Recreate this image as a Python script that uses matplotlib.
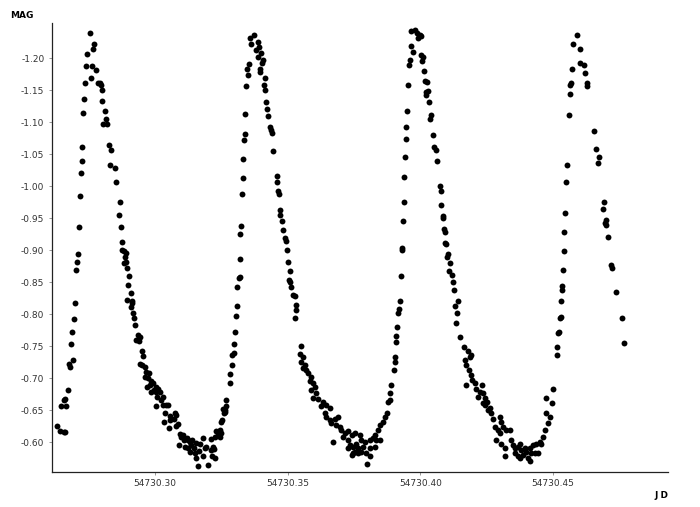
import numpy as np
import matplotlib
matplotlib.use("Agg")
import matplotlib.pyplot as plt
from matplotlib.ticker import FormatStrFormatter, MultipleLocator

# Julian date offsets (JD - 54730) and magnitudes
jd_rise1 = [0.2630, 0.2640, 0.2655, 0.2660, 0.2644, 0.2665, 0.2655, 0.2661, 0.2671, 0.2675,
            0.2680, 0.2690, 0.2684, 0.2688, 0.2694, 0.2698, 0.2701, 0.2705, 0.2709, 0.2713,
            0.2715, 0.2719, 0.2723, 0.2725, 0.2729, 0.2731, 0.2737, 0.2741, 0.2744, 0.2756,
            0.2759, 0.2763, 0.2765, 0.2769, 0.2778, 0.2784, 0.2791, 0.2794, 0.2798, 0.2801,
            0.2810, 0.2813, 0.2818, 0.2803, 0.2826, 0.2835, 0.2831, 0.2850, 0.2851, 0.2866,
            0.2862]
mag_rise1 = [-0.626, -0.618, -0.616, -0.616, -0.656, -0.657, -0.666, -0.668, -0.681, -0.723,
             -0.717, -0.729, -0.754, -0.772, -0.792, -0.818, -0.869, -0.882, -0.894, -0.937,
             -0.985, -1.021, -1.040, -1.061, -1.115, -1.137, -1.162, -1.188, -1.206, -1.239,
             -1.170, -1.188, -1.214, -1.222, -1.182, -1.162, -1.161, -1.158, -1.150, -1.134,
             -1.118, -1.105, -1.098, -1.097, -1.064, -1.057, -1.034, -1.029, -1.007, -0.976,
             -0.955]

jd_fall1 = [0.2870, 0.2876, 0.2874, 0.2881, 0.2889, 0.2885, 0.2891, 0.2881, 0.2895, 0.2900,
            0.2897, 0.2910, 0.2894, 0.2911, 0.2914, 0.2908, 0.2916, 0.2920, 0.2924, 0.2935,
            0.2941, 0.2929, 0.2939, 0.2950, 0.2954, 0.2944, 0.2952, 0.2960, 0.2967, 0.2975,
            0.2960, 0.2973, 0.2986, 0.2992, 0.2979, 0.2969, 0.3002, 0.3010, 0.2994, 0.2986,
            0.3002, 0.3017, 0.3008, 0.3029, 0.3021, 0.3039, 0.3048, 0.3029, 0.3002, 0.3036,
            0.3055, 0.3073, 0.3080, 0.3032, 0.3055, 0.3070, 0.3052, 0.3077, 0.3086, 0.3092,
            0.3105, 0.3099, 0.3118, 0.3124, 0.3108, 0.3130, 0.3140, 0.3155, 0.3168, 0.3180,
            0.3090, 0.3111, 0.3124, 0.3136, 0.3145, 0.3130, 0.3149, 0.3164, 0.3187, 0.3193,
            0.3155, 0.3180, 0.3209, 0.3218, 0.3222, 0.3161, 0.3199, 0.3216, 0.3224, 0.3212,
            0.3224, 0.3237, 0.3243, 0.3249, 0.3231, 0.3239, 0.3246, 0.3247, 0.3253, 0.3258,
            0.3265, 0.3268, 0.3266, 0.3255, 0.3262]
mag_fall1 = [-0.937, -0.913, -0.900, -0.899, -0.896, -0.889, -0.882, -0.880, -0.872, -0.860,
             -0.846, -0.834, -0.823, -0.820, -0.817, -0.811, -0.802, -0.794, -0.783, -0.768,
             -0.765, -0.760, -0.759, -0.742, -0.735, -0.723, -0.721, -0.717, -0.710, -0.709,
             -0.702, -0.700, -0.695, -0.692, -0.690, -0.687, -0.687, -0.683, -0.681, -0.678,
             -0.678, -0.679, -0.671, -0.671, -0.666, -0.659, -0.658, -0.658, -0.657, -0.645,
             -0.641, -0.645, -0.643, -0.631, -0.635, -0.637, -0.623, -0.625, -0.629, -0.613,
             -0.611, -0.609, -0.606, -0.603, -0.604, -0.601, -0.604, -0.599, -0.598, -0.606,
             -0.595, -0.593, -0.591, -0.596, -0.591, -0.585, -0.583, -0.587, -0.591, -0.593,
             -0.576, -0.579, -0.588, -0.593, -0.589, -0.563, -0.565, -0.578, -0.575, -0.605,
             -0.609, -0.611, -0.608, -0.614, -0.617, -0.614, -0.619, -0.631, -0.635, -0.645,
             -0.650, -0.656, -0.666, -0.652, -0.647]

jd_rise2 = [0.3281, 0.3283, 0.3291, 0.3291, 0.3297, 0.3297, 0.3302, 0.3306, 0.3310, 0.3310,
            0.3315, 0.3318, 0.3318, 0.3321, 0.3325, 0.3326, 0.3330, 0.3332, 0.3335, 0.3338,
            0.3340, 0.3344, 0.3351, 0.3347, 0.3354]
mag_rise2 = [-0.693, -0.706, -0.721, -0.736, -0.739, -0.753, -0.772, -0.798, -0.813, -0.843,
             -0.857, -0.859, -0.887, -0.925, -0.938, -0.988, -1.013, -1.043, -1.072, -1.082,
             -1.113, -1.156, -1.174, -1.184, -1.191]

jd_fall2 = [0.3356, 0.3372, 0.3363, 0.3387, 0.3391, 0.3381, 0.3400, 0.3387, 0.3406, 0.3404,
            0.3396, 0.3394, 0.3413, 0.3410, 0.3415, 0.3419, 0.3421, 0.3425, 0.3432, 0.3435,
            0.3442, 0.3444, 0.3461, 0.3458, 0.3463, 0.3467, 0.3472, 0.3470, 0.3479, 0.3482,
            0.3488, 0.3492, 0.3497, 0.3501, 0.3507, 0.3504, 0.3510, 0.3513, 0.3519, 0.3526,
            0.3532, 0.3530, 0.3526,
            0.3551, 0.3545, 0.3557, 0.3551, 0.3564, 0.3557, 0.3570, 0.3576, 0.3589, 0.3582,
            0.3595, 0.3601, 0.3589, 0.3608, 0.3595, 0.3614, 0.3632, 0.3626, 0.3645, 0.3658,
            0.3639, 0.3645, 0.3658, 0.3677, 0.3689, 0.3664, 0.3683, 0.3695, 0.3702, 0.3714,
            0.3727, 0.3708, 0.3670, 0.3740, 0.3752, 0.3771, 0.3727, 0.3733, 0.3746, 0.3758,
            0.3764, 0.3777, 0.3790, 0.3783, 0.3809, 0.3821, 0.3827, 0.3840, 0.3846, 0.3859,
            0.3865, 0.3872, 0.3878, 0.3884, 0.3809, 0.3796, 0.3777, 0.3752, 0.3740, 0.3727,
            0.3834, 0.3846, 0.3827, 0.3811, 0.3798, 0.3746, 0.3764]
mag_fall2 = [-1.232, -1.236, -1.222, -1.226, -1.218, -1.213, -1.208, -1.202, -1.197, -1.192,
             -1.184, -1.179, -1.170, -1.159, -1.150, -1.131, -1.120, -1.110, -1.092, -1.088,
             -1.084, -1.055, -1.016, -1.006, -0.993, -0.988, -0.963, -0.955, -0.945, -0.932,
             -0.919, -0.915, -0.900, -0.882, -0.867, -0.854, -0.851, -0.843, -0.830, -0.828,
             -0.815, -0.807, -0.794,
             -0.751, -0.738, -0.734, -0.726, -0.721, -0.716, -0.713, -0.708, -0.702, -0.695,
             -0.692, -0.687, -0.682, -0.677, -0.669, -0.667, -0.663, -0.656, -0.658, -0.653,
             -0.645, -0.640, -0.635, -0.637, -0.640, -0.630, -0.627, -0.624, -0.619, -0.614,
             -0.617, -0.609, -0.601, -0.611, -0.614, -0.611, -0.604, -0.596, -0.593, -0.598,
             -0.591, -0.604, -0.601, -0.593, -0.604, -0.606, -0.611, -0.619, -0.627, -0.632,
             -0.640, -0.645, -0.663, -0.666, -0.591, -0.583, -0.585, -0.585, -0.580, -0.591,
             -0.604, -0.604, -0.593, -0.579, -0.566, -0.583, -0.583]

jd_rise3 = [0.3884, 0.3888, 0.3900, 0.3903, 0.3905, 0.3907, 0.3909, 0.3911, 0.3915, 0.3918,
            0.3922, 0.3925, 0.3929, 0.3932, 0.3934, 0.3936, 0.3938, 0.3940, 0.3944, 0.3947,
            0.3949, 0.3953, 0.3956, 0.3959, 0.3963, 0.3966]
mag_rise3 = [-0.677, -0.690, -0.713, -0.726, -0.734, -0.757, -0.766, -0.780, -0.802, -0.809,
             -0.820, -0.860, -0.900, -0.903, -0.945, -0.975, -1.015, -1.046, -1.074, -1.093,
             -1.117, -1.158, -1.190, -1.197, -1.219, -1.242]

jd_fall3 = [0.3978, 0.3987, 0.3997, 0.3991, 0.4003, 0.3972, 0.4003, 0.4009, 0.4007, 0.4013,
            0.4016, 0.4026, 0.4022, 0.4028, 0.4020, 0.4032, 0.4041, 0.4037, 0.4047, 0.4051,
            0.4057, 0.4062, 0.4072, 0.4076, 0.4079, 0.4083, 0.4085, 0.4088, 0.4091, 0.4094,
            0.4098, 0.4104, 0.4100, 0.4110, 0.4108, 0.4117, 0.4123, 0.4125, 0.4141, 0.4129,
            0.4138, 0.4133, 0.4148, 0.4163, 0.4179, 0.4192, 0.4186, 0.4167, 0.4173, 0.4183,
            0.4192, 0.4196, 0.4173, 0.4204, 0.4211, 0.4217,
            0.4230, 0.4236, 0.4223, 0.4242, 0.4249, 0.4236, 0.4261, 0.4267, 0.4273, 0.4299,
            0.4305, 0.4280, 0.4292, 0.4311, 0.4324, 0.4336, 0.4299, 0.4286, 0.4305, 0.4318,
            0.4343, 0.4349, 0.4355, 0.4368, 0.4374, 0.4380, 0.4393, 0.4399, 0.4412, 0.4424,
            0.4437, 0.4449, 0.4462, 0.4456, 0.4468, 0.4481, 0.4487, 0.4475, 0.4494, 0.4475,
            0.4500, 0.4355, 0.4368, 0.4386, 0.4405, 0.4412, 0.4374, 0.4318, 0.4431, 0.4443,
            0.4418, 0.4242, 0.4255]
mag_fall3 = [-1.245, -1.239, -1.236, -1.231, -1.235, -1.210, -1.205, -1.202, -1.196, -1.180,
             -1.165, -1.163, -1.148, -1.149, -1.143, -1.132, -1.111, -1.105, -1.080, -1.062,
             -1.056, -1.039, -1.001, -0.993, -0.970, -0.954, -0.950, -0.933, -0.929, -0.912,
             -0.910, -0.894, -0.889, -0.880, -0.867, -0.861, -0.851, -0.838, -0.821, -0.813,
             -0.802, -0.786, -0.765, -0.749, -0.743, -0.736, -0.734, -0.729, -0.721, -0.713,
             -0.705, -0.697, -0.690, -0.692, -0.684, -0.671,
             -0.690, -0.677, -0.679, -0.669, -0.663, -0.661, -0.653, -0.645, -0.637, -0.640,
             -0.632, -0.624, -0.619, -0.624, -0.619, -0.619, -0.614, -0.604, -0.598, -0.591,
             -0.604, -0.596, -0.591, -0.593, -0.598, -0.588, -0.591, -0.585, -0.591, -0.596,
             -0.598, -0.601, -0.609, -0.598, -0.619, -0.630, -0.640, -0.645, -0.661, -0.669,
             -0.684, -0.583, -0.578, -0.580, -0.575, -0.571, -0.575, -0.578, -0.583, -0.583,
             -0.583, -0.658, -0.650]

jd_rise4 = [0.4513, 0.4515, 0.4519, 0.4521, 0.4525, 0.4528, 0.4529, 0.4532, 0.4534, 0.4538,
            0.4540, 0.4541, 0.4544, 0.4550, 0.4553, 0.4560, 0.4563, 0.4565, 0.4567, 0.4573,
            0.4575, 0.4590]
mag_rise4 = [-0.736, -0.749, -0.770, -0.773, -0.794, -0.796, -0.820, -0.838, -0.844, -0.869,
             -0.899, -0.929, -0.958, -1.006, -1.034, -1.112, -1.145, -1.158, -1.162, -1.183,
             -1.222, -1.236]

jd_fall4 = [0.4601, 0.4603, 0.4617, 0.4622, 0.4628, 0.4626, 0.4654, 0.4660, 0.4673, 0.4670,
            0.4691, 0.4688, 0.4695, 0.4701, 0.4698, 0.4707, 0.4717, 0.4722, 0.4736, 0.4761,
            0.4766]
mag_fall4 = [-1.214, -1.193, -1.190, -1.177, -1.162, -1.157, -1.087, -1.058, -1.045, -1.036,
             -0.976, -0.964, -0.942, -0.947, -0.940, -0.920, -0.877, -0.872, -0.835, -0.794,
             -0.755]

mag_ticks = [-1.20, -1.15, -1.10, -1.05, -1.00, -0.95, -0.90, -0.85, -0.80,
             -0.75, -0.70, -0.65, -0.60]

JD_BASE = 54730.0
jd = JD_BASE + np.array(jd_rise1 + jd_fall1 + jd_rise2 + jd_fall2 +
                        jd_rise3 + jd_fall3 + jd_rise4 + jd_fall4)
mag = np.array(mag_rise1 + mag_fall1 + mag_rise2 + mag_fall2 +
               mag_rise3 + mag_fall3 + mag_rise4 + mag_fall4)

fig = plt.figure(figsize=(7.0, 5.07), dpi=100)
ax = fig.add_axes([52 / 700, 1 - 471.7 / 507, (668 - 52) / 700, (471.7 - 23.3) / 507])

ax.scatter(jd, mag, s=18, c="black", linewidths=0)

ax.set_xlim(54730.2611, 54730.4933)
ax.set_ylim(-0.554, -1.2547)  # magnitudes: brighter up

ax.xaxis.set_major_locator(MultipleLocator(0.05))
ax.xaxis.set_major_formatter(FormatStrFormatter("%.2f"))
ax.set_yticks(mag_ticks)
ax.yaxis.set_major_formatter(FormatStrFormatter("%.2f"))

for s in ("top", "right"):
    ax.spines[s].set_visible(False)
for s in ("left", "bottom"):
    ax.spines[s].set_linewidth(0.9)
    ax.spines[s].set_color("#222222")

ax.tick_params(axis="both", direction="out", length=2.5, width=0.6, color="#888888",
               labelsize=6.5, labelcolor="#333333", pad=3)

fig.text(10 / 700, 1 - 16 / 507, "MAG", fontsize=6.5, fontweight="bold", va="center", ha="left")
fig.text(668 / 700, 1 - 496 / 507, "J D", fontsize=6.5, fontweight="bold", va="center", ha="right")

fig.savefig("out.png", dpi=100)
